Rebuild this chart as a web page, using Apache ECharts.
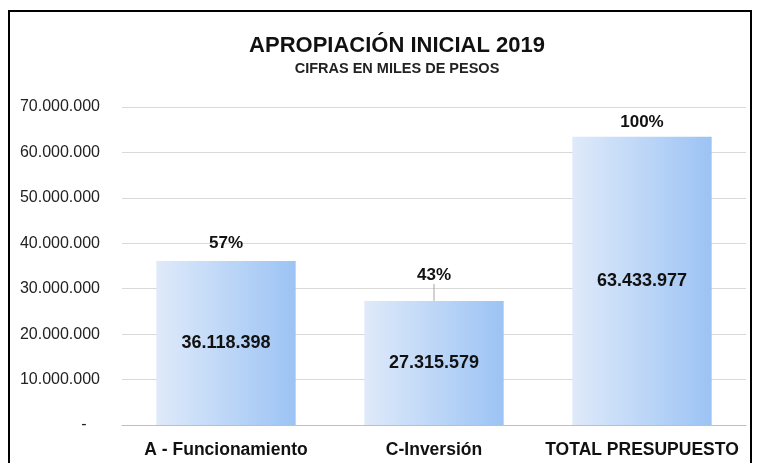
<!DOCTYPE html>
<html>
<head>
<meta charset="utf-8">
<script src="https://cdn.jsdelivr.net/npm/echarts@6/dist/echarts.min.js"></script>
<style>
  html, body { margin: 0; padding: 0; background: #fff; }
  #chart { width: 760px; height: 463px; }
</style>
</head>
<body>
<div id="chart"></div>
<script>
// datos del gráfico
const categorias = ['A - Funcionamiento', 'C-Inversión', 'TOTAL PRESUPUESTO']
const valores = [36118398, 27315579, 63433977]
const porcentajes = ['57%', '43%', '100%']
const ticksY = [0, 10000000, 20000000, 30000000, 40000000, 50000000, 60000000, 70000000]

const fuente = '"Liberation Sans Narrow", "Arial Narrow", "Liberation Sans", Arial, sans-serif'

// separador de miles con punto
function miles(v) {
    return String(Math.round(v)).replace(/\B(?=(\d{3})+(?!\d))/g, '.')
}

const degradado = new echarts.graphic.LinearGradient(0, 0, 1, 0, [
    { offset: 0, color: '#dfeafa' },
    { offset: 1, color: '#9cc3f4' }
])

const chart = echarts.init(document.getElementById('chart'))
const option = {
    animation: false,
    backgroundColor: '#fff',
    title: {
        text: 'APROPIACIÓN INICIAL 2019',
        subtext: 'CIFRAS EN MILES DE PESOS',
        left: 392,
        top: 30,
        textAlign: 'center',
        itemGap: 4,
        textStyle: { fontFamily: fuente, fontSize: 22, fontWeight: 'bold', color: '#111' },
        subtextStyle: { fontFamily: fuente, fontSize: 14.5, fontWeight: 'bold', color: '#222' }
    },
    graphic: [{
        type: 'rect',
        shape: { x: 9, y: 11, width: 742, height: 480 },
        style: { fill: 'none', stroke: '#000', lineWidth: 2 },
        silent: true
    }],
    grid: { left: 122, right: 14, top: 107, bottom: 38 },
    xAxis: {
        type: 'category',
        data: categorias,
        axisTick: { show: false },
        axisLine: { lineStyle: { color: '#bfbfbf' } },
        axisLabel: {
            interval: 0,
            fontFamily: fuente, fontSize: 17.5, fontWeight: 'bold', color: '#111', margin: 16
        }
    },
    yAxis: {
        type: 'value',
        min: ticksY[0],
        max: ticksY[ticksY.length - 1],
        interval: 10000000,
        axisLine: { show: false },
        axisTick: { show: false },
        splitLine: { lineStyle: { color: '#d9d9d9', width: 1 } },
        axisLabel: {
            fontFamily: fuente, fontSize: 16, color: '#222', margin: 22,
            formatter: v => v === 0 ? '-   ' : miles(v)   // el cero se muestra como guion
        }
    },
    series: [
        {
            type: 'bar',
            data: valores,
            barWidth: '67%',
            itemStyle: { color: degradado },
            label: {
                show: true,
                position: 'inside',
                fontFamily: fuente, fontSize: 18, fontWeight: 'bold', color: '#111',
                formatter: p => miles(p.value)
            },
            z: 2
        },
        {
            // serie transparente encima, solo para los porcentajes
            type: 'bar',
            data: valores.map((v, i) => ({
                value: v,
                labelLine: { show: i === 1 }
            })),
            barWidth: '67%',
            barGap: '-100%',
            itemStyle: { color: 'transparent' },
            label: {
                show: true,
                position: 'top',
                distance: 6,
                fontFamily: fuente, fontSize: 17, fontWeight: 'bold', color: '#111',
                formatter: p => porcentajes[p.dataIndex]
            },
            labelLine: { show: false, lineStyle: { color: '#a6a6a6', width: 1 } },
            labelLayout: p => ({ dy: [-3, -11, 0][p.dataIndex] }),
            z: 3
        }
    ]
}
chart.setOption(option)
</script>
</body>
</html>
